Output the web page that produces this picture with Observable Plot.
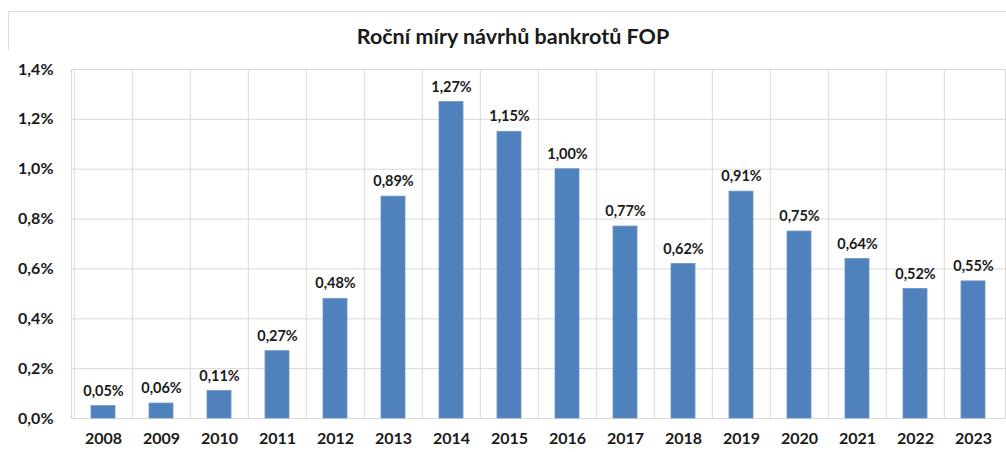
<!DOCTYPE html>
<html>
<head>
<meta charset="utf-8">
<script src="https://cdn.jsdelivr.net/npm/d3@7"></script>
<script src="https://cdn.jsdelivr.net/npm/@observablehq/plot@0.6"></script>
<style>
  html, body { margin: 0; padding: 0; background: #fff; }
  body { width: 1006px; height: 452px; position: relative; overflow: hidden; font-family: Lato, "Open Sans", sans-serif; }
  #frame { position: absolute; left: 8px; top: 11px; width: 1010px; height: 460px; border: 1px solid #d9d9d9; box-sizing: border-box; }
  #title { position: absolute; left: 0; width: 1026px; top: 23px; text-align: center; font-size: 21.5px; font-weight: 700; color: #1a1a1a; }
  #chart { position: absolute; left: 0; top: 50px; }
</style>
</head>
<body>
<div id="frame"></div>
<div id="title">Roční míry návrhů bankrotů FOP</div>
<div id="chart"></div>
<script>
const years = ["2008","2009","2010","2011","2012","2013","2014","2015","2016","2017","2018","2019","2020","2021","2022","2023"];
const rates = [0.05, 0.06, 0.11, 0.27, 0.48, 0.89, 1.27, 1.15, 1.00, 0.77, 0.62, 0.91, 0.75, 0.64, 0.52, 0.55];
const yTicks = [0, 0.2, 0.4, 0.6, 0.8, 1.0, 1.2, 1.4];

const data = years.map((y, i) => ({year: y, rate: rates[i]}));
const fmt = v => v.toFixed(1).replace(".", ",") + "%";
const fmtVal = v => v.toFixed(2).replace(".", ",") + "%";

const W = 1006, H = 402, mL = 71, mR = 1;
const step = (W - mL - mR) / years.length;
const padIn = 0.59;

const chart = Plot.plot({
  width: W,
  height: H,
  marginLeft: mL,
  marginRight: mR,
  marginTop: 19,
  marginBottom: 34,
  style: { fontFamily: "Lato, 'Open Sans', sans-serif", color: "#1a1a1a", background: "#fff" },
  x: { type: "band", domain: years, paddingInner: padIn, paddingOuter: padIn / 2, label: null },
  y: { domain: [0, 1.4], label: null },
  marks: [
    Plot.gridY(yTicks, { stroke: "#d9d9d9", strokeOpacity: 1, strokeWidth: 1 }),
    Plot.ruleX(years, { x: d => d, dx: -step / 2, stroke: "#d9d9d9", strokeWidth: 1 }),
    Plot.frame({ stroke: "#d9d9d9", strokeWidth: 1 }),
    Plot.barY(data, { x: "year", y: "rate", fill: "#4f81bd", stroke: "#6a95c9", strokeWidth: 0.8 }),
    Plot.text(data, { x: "year", y: "rate", text: d => fmtVal(d.rate), dy: -15, fontSize: 14.5, fontWeight: 700, fill: "#1a1a1a" }),
    Plot.axisY(yTicks, { tickFormat: fmt, tickSize: 0, tickPadding: 18, fontSize: 16, fontWeight: 700, label: null }),
    Plot.axisX({ tickSize: 0, tickPadding: 14, fontSize: 16, fontWeight: 700, label: null })
  ]
});
document.getElementById("chart").appendChild(chart);
</script>
</body>
</html>
